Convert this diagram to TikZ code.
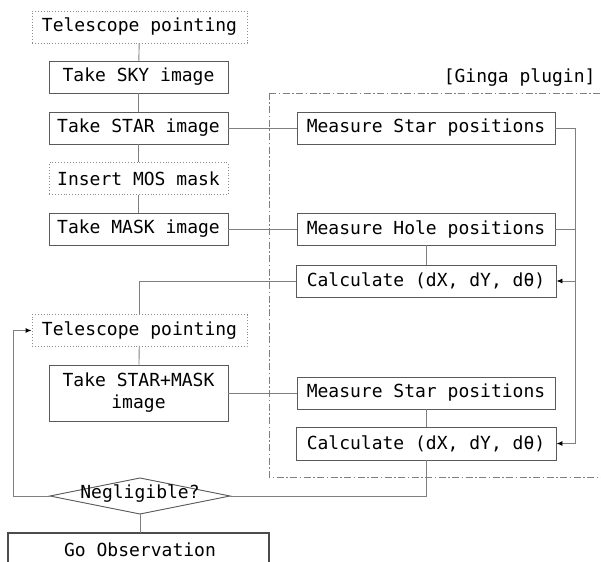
\documentclass[tikz,border=0pt]{standalone}
\usepackage{fontspec}
\setmonofont{DejaVu Sans Mono}
\usetikzlibrary{arrows.meta}
\definecolor{boxc}{HTML}{5A5A5A}
\definecolor{linec}{HTML}{7F7F7F}
\definecolor{dotc}{HTML}{8C8C8C}
\tikzset{
  every node/.style={font=\ttfamily\fontsize{18}{22}\selectfont, text=black},
  box/.style={draw=boxc, line width=0.9pt, inner sep=0pt, minimum height=32pt, align=center},
  dotbox/.style={draw=dotc, line width=0.9pt, dotted, inner sep=0pt, minimum height=32pt},
  conn/.style={draw=linec, line width=0.9pt},
  arr/.style={conn, -{Latex[length=6pt,width=5pt,color=black]}},
}
\begin{document}
\begin{tikzpicture}[x=1pt,y=-1pt]
\useasboundingbox (0,0) rectangle (601,561);
% Ginga plugin frame
\draw[linec, line width=0.9pt, dash pattern=on 7pt off 2.5pt on 1.5pt off 2.5pt] (269,93) -- (620,93) (269,93) -- (269,477) -- (620,477);
\node[anchor=east] (ginga) at (599,78) {[Ginga plugin]};
% left column
\node[dotbox, minimum width=215pt] (tp1) at (139.5,27) {Telescope pointing};
\node[box, minimum width=179pt] (sky) at (138.5,77) {Take SKY image};
\node[box, minimum width=179pt] (star) at (138.5,128) {Take STAR image};
\node[dotbox, minimum width=179pt] (mos) at (138.5,178.5) {Insert MOS mask};
\node[box, minimum width=179pt] (mask) at (138.5,229) {Take MASK image};
\node[dotbox, minimum width=215pt] (tp2) at (139.5,330.5) {Telescope pointing};
\node[box, minimum width=179pt, minimum height=56pt] (sm) at (138.5,393) {Take STAR+MASK\\image};
% right column
\node[box, minimum width=258pt] (ms1) at (426,128) {Measure Star positions};
\node[box, minimum width=258pt] (mh) at (426,229) {Measure Hole positions};
\node[box, minimum width=260pt] (c1) at (426,281) {Calculate (dX, dY, dθ)};
\node[box, minimum width=258pt] (ms2) at (426,393) {Measure Star positions};
\node[box, minimum width=260pt, minimum height=33pt] (c2) at (426,443.5) {Calculate (dX, dY, dθ)};
% decision
\coordinate (nl) at (50,496);
\coordinate (nr) at (230,496);
\coordinate (nt) at (140,478);
\coordinate (nb) at (140,514);
\draw[boxc, line width=0.9pt] (nl) -- (nt) -- (nr) -- (nb) -- cycle;
\node (neg) at (140,494) {Negligible?};
% final
\draw[boxc!85!black, line width=2pt] (8,600) -- (8,533) -- (269,533) -- (269,600);
\node (go) at (140,550) {Go Observation};
\coordinate (gotop) at (140,533);
% connectors
\path[conn] (tp1) -- (sky);
\path[conn] (sky) -- (star);
\path[conn] (star) -- (mos);
\path[conn] (mos) -- (mask);
\path[conn] (star) -- (ms1);
\path[conn] (mask) -- (mh);
\path[conn] (mh) -- (c1);
\path[conn] (ms2) -- (c2);
\coordinate (r1) at (575,128);
\coordinate (r2) at (575,229);
\path[conn] (ms1.east) -- (r1) -- (575,443.5);
\path[conn] (mh.east) -- (r2);
\path[arr] (575,281) -- (c1.east);
\path[arr] (575,443.5) -- (c2.east);
\path[conn] (c1.west) -| (tp2.north);
\path[conn] (tp2) -- (sm);
\path[conn] (sm) -- (ms2);
\path[conn] (c2.south) |- (nr);
\path[arr] (nl) -- (13,496) |- (tp2.west);
\path[conn] (nb) -- (gotop);
\end{tikzpicture}
\end{document}
